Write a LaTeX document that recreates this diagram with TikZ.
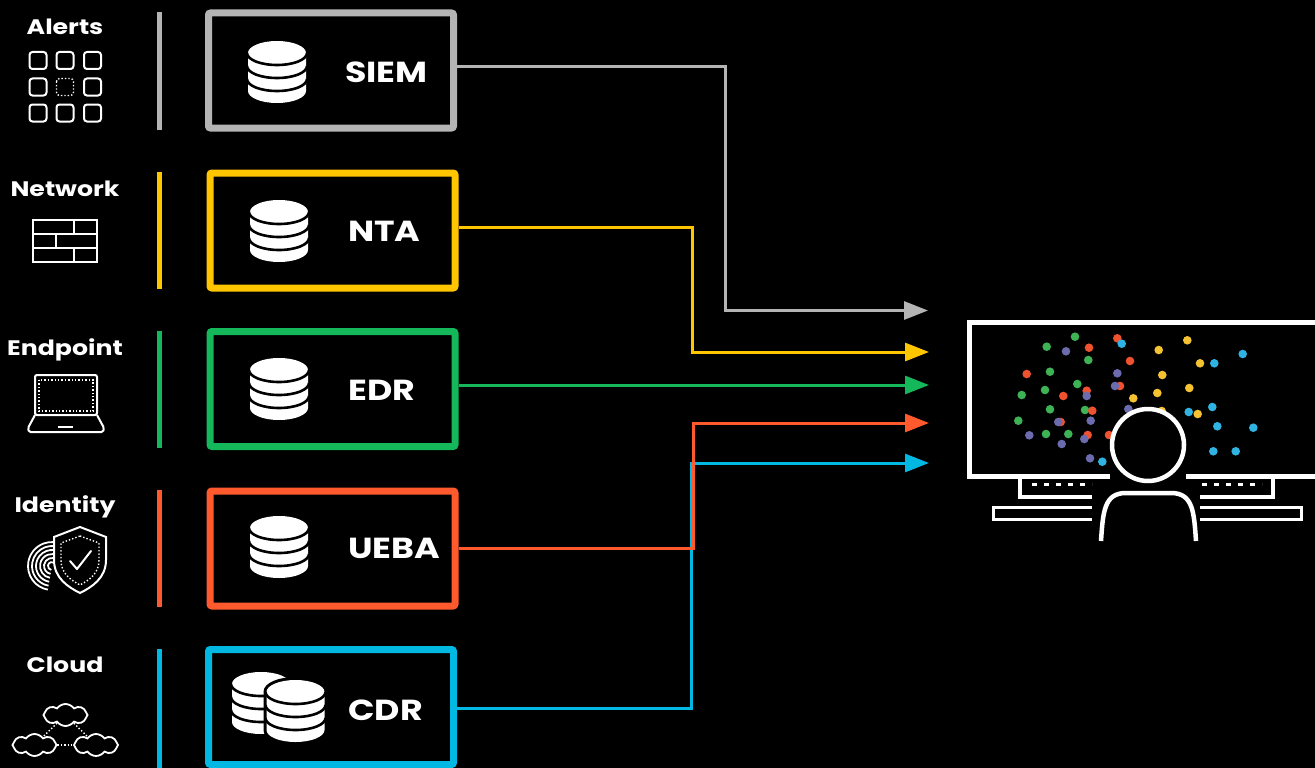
\documentclass[tikz,border=0pt]{standalone}
\usepackage{fontspec}
\setmainfont{Poppins}[FakeStretch=1.2]
\usetikzlibrary{arrows.meta,shapes.symbols,calc}

\definecolor{siemc}{HTML}{B4B4B4}
\definecolor{ntac}{HTML}{FFC600}
\definecolor{edrc}{HTML}{14B85A}
\definecolor{uebac}{HTML}{FF5A2E}
\definecolor{cdrc}{HTML}{00B8E2}
\definecolor{dotgreen}{HTML}{3DB356}
\definecolor{dotpurple}{HTML}{6B6BAE}
\definecolor{dotred}{HTML}{F0522F}
\definecolor{dotyellow}{HTML}{F5C232}
\definecolor{dotblue}{HTML}{2FB3E2}

\tikzset{
  srcbox/.style={draw, line width=7pt, rounded corners=2pt, minimum width=245pt,
    minimum height=115pt, inner sep=0pt},
  boxlabel/.style={text=white, font=\bfseries\fontsize{29}{29}\selectfont,
    anchor=base west, inner sep=0pt},
  catlabel/.style={text=white, font=\bfseries\fontsize{21}{21}\selectfont,
    anchor=base, inner sep=0pt},
  link/.style={line width=3pt, -{Triangle[length=24pt,width=18pt]}},
  icon/.style={draw=white, line width=2pt},
  thinicon/.style={draw=white, line width=1.4pt, dotted},
  cloudicon/.style={cloud, draw=white, line width=1.8pt, cloud puffs=8,
    cloud puff arc=110, aspect=2.1, minimum width=44pt, minimum height=22pt, inner sep=0pt},
  screen/.style={draw=white, line width=5pt},
  stand/.style={draw=white, line width=4pt},
  % stacked-disk database symbol, origin at the top centre
  dbicon/.pic={
    \fill[white] (-29,12) arc[start angle=180, end angle=360, x radius=29, y radius=12]
      -- (29,50) arc[start angle=0, end angle=180, x radius=29, y radius=12] -- cycle;
    \foreach \lv in {12,25,38}
      \draw[black, line width=2.6pt] (-30,\lv) arc[start angle=180, end angle=0, x radius=30, y radius=12];
  },
  dbshadow/.pic={
    \filldraw[black, line width=6pt] (-29,12) arc[start angle=180, end angle=360, x radius=29, y radius=12]
      -- (29,50) arc[start angle=0, end angle=180, x radius=29, y radius=12] -- cycle;
  }
}

\begin{document}
\begin{tikzpicture}[x=1pt,y=-1pt]
\fill[black] (0,0) rectangle (1315,768);
\useasboundingbox (0,0) rectangle (1315,768);

% ---- category labels ----
\node[catlabel] (lalerts) at (65,35) {Alerts};
\node[catlabel] (lnetwork) at (65,196) {Network};
\node[catlabel] (lendpoint) at (65,355) {Endpoint};
\node[catlabel] (lidentity) at (65,512) {Identity};
\node[catlabel] (lcloud) at (65,672) {Cloud};

% ---- separator bars ----
\fill[siemc] (157,12) rectangle (162,130);
\fill[ntac] (157,172) rectangle (162,289);
\fill[edrc] (157,331) rectangle (162,448);
\fill[uebac] (157,490) rectangle (162,607);
\fill[cdrc] (157,649) rectangle (162,768);

% ---- alerts grid ----
\foreach \cx in {38,65,92.5}
  \foreach \cy in {60.5,87,113}
    \draw[icon, rounded corners=3pt] (\cx-8.5,\cy-8.5) rectangle (\cx+8.5,\cy+8.5);
\fill[black] (54,76) rectangle (76,98);
\draw[thinicon, rounded corners=3pt] (56.5,78.5) rectangle (73.5,95.5);

% ---- firewall ----
\draw[icon] (33,220) rectangle (97,262);
\draw[icon] (33,234) -- (97,234) (33,248) -- (97,248);
\draw[icon] (74,220) -- (74,234) (56,234) -- (56,248) (74,248) -- (74,262);

% ---- laptop ----
\draw[icon, rounded corners=2pt] (35,415) rectangle (97,375);
\draw[thinicon] (39,380) rectangle (93,411);
\draw[icon, rounded corners=1.5pt] (35,415) -- (28,428) -- (29,432) -- (103,432) -- (104,428) -- (97,415);
\draw[icon] (58,427) -- (73,427);

% ---- fingerprint and shield ----
\foreach \r in {4,8,12,16,20,24}
  \draw[white, line width=1.8pt] (52,566) ++(100:\r) arc[start angle=100, end angle=300, radius=\r];
\filldraw[fill=black, draw=white, line width=2pt] (80,527) -- (106,537) -- (106,560)
  .. controls (106,578) and (92,587) .. (80,593)
  .. controls (68,587) and (54,578) .. (54,560) -- (54,537) -- cycle;
\draw[thinicon] (80,536) -- (99,543) -- (99,560) .. controls (99,574) and (89,580) .. (80,585)
  .. controls (71,580) and (61,574) .. (61,560) -- (61,543) -- cycle;
\draw[icon, line cap=round, line join=round] (70,561) -- (77,569) -- (91,551);

% ---- clouds ----
\node[cloudicon] (ctop) at (65.5,715) {};
\node[cloudicon] (cleft) at (34.5,745) {};
\node[cloudicon] (cright) at (96,745) {};
\draw[thinicon] (ctop) -- (cleft);
\draw[thinicon] (ctop) -- (cright);
\draw[thinicon] (cleft) -- (cright);

% ---- source boxes ----
\node[srcbox, draw=siemc] (siem) at (331,70.5) {};
\node[srcbox, draw=ntac] (nta) at (332.5,230.5) {};
\node[srcbox, draw=edrc] (edr) at (332.5,389) {};
\node[srcbox, draw=uebac] (ueba) at (332.5,548.5) {};
\node[srcbox, draw=cdrc] (cdr) at (331,707) {};

\pic at (277,41) {dbicon};
\pic at (279,200) {dbicon};
\pic at (279,358) {dbicon};
\pic at (279,516) {dbicon};
\pic at (261,672) {dbicon};
\pic at (295.5,680) {dbshadow};
\pic at (295.5,680) {dbicon};

\node[boxlabel] (tsiem) at (345,82) {SIEM};
\node[boxlabel] (tnta) at (348,241) {NTA};
\node[boxlabel] (tedr) at (348,400) {EDR};
\node[boxlabel] (tueba) at (348,558) {UEBA};
\node[boxlabel] (tcdr) at (348,720) {CDR};

% ---- connectors ----
\coordinate (tipsiem) at (928,310.5);
\coordinate (tipnta) at (929,352);
\coordinate (tipedr) at (929,385);
\coordinate (tipueba) at (929,423);
\coordinate (tipcdr) at (929,463);

\draw[link, siemc] ([yshift=3.5pt]siem.east) -| (725,310.5) -- (tipsiem);
\draw[link, ntac] ([yshift=3.5pt]nta.east) -| (692,352) -- (tipnta);
\draw[link, edrc] ([yshift=4pt]edr.east) -- (tipedr);
\draw[link, cdrc] ([yshift=-1pt]cdr.east) -| (691,463) -- (tipcdr);
\draw[link, uebac] ([yshift=0.5pt]ueba.east) -| (693,423) -- (tipueba);

% ---- analyst at the monitor ----
\foreach \px/\py in {1075/336.7,1046.7/346.7,1088.3/360,1050/371.7,1077.3/384,1045/390,
    1021.7/395,1050/409.3,1085/410,1018.3/420.7,1046/434,1068.3/434}
  \fill[dotgreen] (\px,\py) circle[radius=4.3];
\foreach \px/\py in {1117.3/338.3,1089/347.7,1130/361,1026.7/374,1086.7/390.7,1063.3/396,
    1120/386,1092.3/410.7,1060.7/422,1087.7/435,1109/435}
  \fill[dotred] (\px,\py) circle[radius=4.3];
\foreach \px/\py in {1066/351.3,1117.3/373.3,1115/386,1086.7/396,1128.3/409,1058.3/422,
    1090.7/420.7,1029.3/435.3,1061.7/444,1084.3/439,1090/458.3}
  \fill[dotpurple] (\px,\py) circle[radius=4.3];
\foreach \px/\py in {1187.3/340.3,1158.7/350,1200/363.3,1162.3/375,1189.3/388,1157.3/393,
    1133.3/398.3,1161.7/411,1197.7/414}
  \fill[dotyellow] (\px,\py) circle[radius=4.3];
\foreach \px/\py in {1121.7/343.7,1242.7/354,1214.3/363.3,1212.3/407,1188.7/412,1217.3/426.3,
    1253.3/427.7,1213.3/451.3,1235.7/451.3,1102.3/461.7}
  \fill[dotblue] (\px,\py) circle[radius=4.3];

\draw[screen] (1110,476) -- (969,476) -- (969,322) -- (1325,322);
\draw[screen] (1186,476) -- (1325,476);
\draw[stand] (1092,497) -- (1020,497) -- (1020,477);
\draw[stand] (1200,497) -- (1273,497) -- (1273,477);
\draw[white, line width=3pt, dash pattern=on 5pt off 7pt] (1032,484) -- (1092,484);
\draw[white, line width=3pt, dash pattern=on 5pt off 7pt] (1202,484) -- (1262,484);
\draw[white, line width=3pt] (1092,507) -- (993,507) -- (993,519) -- (1092,519);
\draw[white, line width=3pt] (1200,507) -- (1301,507) -- (1301,519) -- (1200,519);

\node[circle, draw=white, fill=black, line width=4.5pt, minimum size=72pt, inner sep=0pt] (head) at (1148,445) {};
\draw[white, line width=4.5pt] (1101,541) .. controls (1103,512) and (1104,493) .. (1126,493)
  -- (1171,493) .. controls (1193,493) and (1194,512) .. (1196,541);
\end{tikzpicture}
\end{document}
